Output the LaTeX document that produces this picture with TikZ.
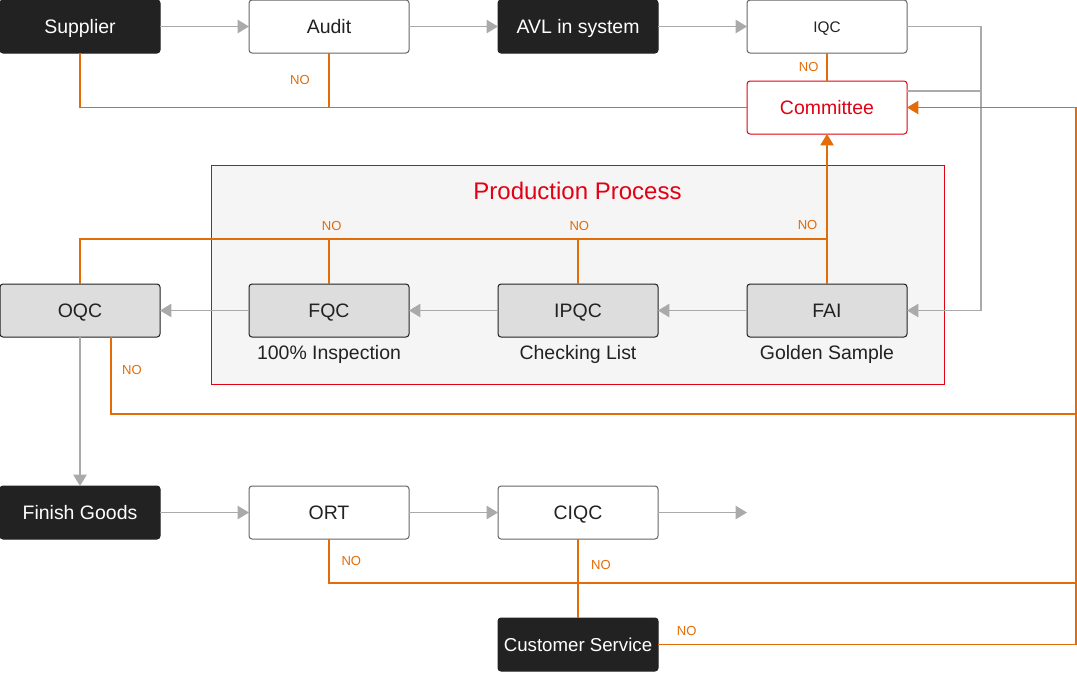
\documentclass[tikz,border=0pt]{standalone}
\usepackage{fontspec}
\setmainfont{Liberation Sans}
\usetikzlibrary{arrows.meta,positioning,calc}
\definecolor{cDark}{RGB}{34,34,34}
\definecolor{cOrange}{RGB}{226,108,10}
\definecolor{cRed}{RGB}{226,0,20}
\definecolor{cLine}{RGB}{170,170,170}
\definecolor{cBox}{RGB}{221,221,221}
\definecolor{cPanel}{RGB}{245,245,245}

\begin{document}
\begin{tikzpicture}[
  x=0.75pt, y=-0.75pt,
  font=\fontsize{14.6}{17}\selectfont,
  node distance=21pt and 66.75pt,
  base/.style={rectangle, rounded corners=2.25pt, minimum width=120pt, minimum height=39.75pt,
    inner sep=2pt, outer sep=0pt, line width=0.75pt, align=center,
    text height=10.45pt, text depth=0pt},
  dark/.style={base, fill=cDark, draw=cDark, text=white},
  plain/.style={base, fill=white, draw=black!60, text=cDark},
  qc/.style={base, fill=cBox, draw=cDark, text=cDark},
  board/.style={base, fill=white, draw=cRed, text=cRed},
  panel/.style={rectangle, fill=cPanel, draw=cRed, line width=0.75pt, minimum width=549.75pt,
    minimum height=164.25pt, inner sep=0pt},
  sub/.style={text=cDark, anchor=base, inner sep=0pt},
  no/.style={font=\fontsize{9.8}{11}\selectfont, text=cOrange, inner sep=0pt},
  flow/.style={-{Triangle[length=8.5pt,width=10pt]}, line width=0.8pt, draw=cLine},
  grayline/.style={line width=0.8pt, draw=cLine},
  back/.style={line width=0.8pt, draw=cOrange},
  backar/.style={back, -{Triangle[length=8.5pt,width=10pt]}},
]
\useasboundingbox (0,0) rectangle (1077,672);

% production frame
\node[panel] (proc) at (577.5,274.5) {};
\node[text=cRed, anchor=base, font=\fontsize{18}{21}\selectfont] (procT)
  at ([yshift=-26.25pt]proc.north) {Production Process};

% top row
\node[dark] (sup) at (80,26.5) {Supplier};
\node[plain, right=of sup] (audit) {Audit};
\node[dark, right=of audit] (avl) {AVL in system};
\node[plain, right=of avl, font=\fontsize{11.5}{14}\selectfont, text height=8.25pt] (iqc) {IQC};
\node[board, below=of iqc] (cmt) {Committee};

% production row
\node[qc, below=173.25pt of sup] (oqc) {OQC};
\node[qc, right=of oqc] (fqc) {FQC};
\node[qc, right=of fqc] (ipqc) {IPQC};
\node[qc, right=of ipqc] (fai) {FAI};
\node[sub] (fqcS) at ([yshift=-16.9pt]fqc.south) {100\% Inspection};
\node[sub] (ipqcS) at ([yshift=-16.9pt]ipqc.south) {Checking List};
\node[sub] (faiS) at ([yshift=-16.9pt]fai.south) {Golden Sample};

% shipping row
\node[dark, below=111.75pt of oqc] (fg) {Finish Goods};
\node[plain, right=of fg] (ort) {ORT};
\node[plain, right=of ort] (ciqc) {CIQC};
\node[dark, below=59.25pt of ciqc, font=\fontsize{14}{17}\selectfont, text height=10pt] (cs) {Customer Service};

\coordinate[right=66.75pt of ciqc.east] (out);
\coordinate[right=126.75pt of cmt.east] (cmtR);
\coordinate[right=55.5pt of iqc.east] (gturn);
\coordinate[above=33.75pt of fai.north] (bus);

% main flow
\draw[flow] (sup) -- (audit);
\draw[flow] (audit) -- (avl);
\draw[flow] (avl) -- (iqc);
\draw[flow] (iqc.east) -- (gturn) |- (fai.east);
\draw[grayline] ([yshift=12.4pt]cmt.east) -- ([yshift=12.4pt]cmt.east -| gturn);
\draw[flow] (fai) -- (ipqc);
\draw[flow] (ipqc) -- (fqc);
\draw[flow] (fqc) -- (oqc);
\draw[flow] (oqc) -- (fg);
\draw[flow] (fg) -- (ort);
\draw[flow] (ort) -- (ciqc);
\draw[flow] (ciqc) -- (out);

% rejects
\draw[back] (sup.south) |- (cmt.west);
\draw[back] (audit.south) -- node[no, left=14pt] (noAudit) {NO} (audit.south |- cmt.west);
\draw[back] (iqc) -- node[no, left=6pt] (noIqc) {NO} (cmt);
\draw[back] (oqc.north) |- (bus);
\draw[back] (fqc.north) -- (fqc.north |- bus) node[no, above=6pt, xshift=2pt] (noFqc) {NO};
\draw[back] (ipqc.north) -- (ipqc.north |- bus) node[no, above=6pt, xshift=1pt] (noIpqc) {NO};
\node[no, above left=6.75pt and 7pt of bus] (noFai) {NO};
\draw[backar] (fai) -- (cmt);
\draw[backar] ([xshift=23.25pt]oqc.south) -- node[no, right=8pt, pos=0.43] (noOqc) {NO} ++(0,77)
  -| (cmtR) -- (cmt.east);
\draw[back] (ort.south) -- node[no, right=9pt, pos=0.5] (noOrt) {NO} ++(0,44) coordinate (ortK)
  -- (ortK -| cmtR);
\draw[back] (ciqc) -- node[no, right=9.5pt, pos=0.33] (noCiqc) {NO} (cs);
\draw[back] (cs.east) -| (cmtR);
\node[no, above right=6.75pt and 14pt of cs.east] (noCs) {NO};
\end{tikzpicture}
\end{document}
